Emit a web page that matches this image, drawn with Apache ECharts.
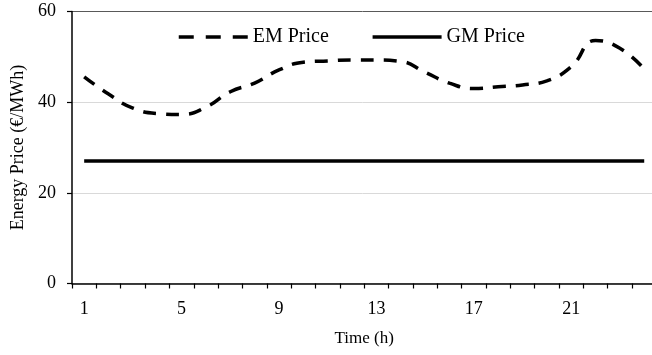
<!DOCTYPE html>
<html>
<head>
<meta charset="utf-8">
<script src="https://cdn.jsdelivr.net/npm/echarts@6/dist/echarts.min.js"></script>
<style>
  html, body { margin: 0; padding: 0; background: #fff; }
  #chart { width: 652px; height: 355px; }
</style>
</head>
<body>
<div id="chart"></div>
<script>
// Hourly energy prices over one day
const hours = ['1','2','3','4','5','6','7','8','9','10','11','12',
               '13','14','15','16','17','18','19','20','21','22','23','24'];
const emPrice = [45.6, 41.8, 38.7, 37.5, 37.3, 38.9, 42.3, 44.2, 47.1, 48.8, 49.1, 49.3,
                 49.3, 49.0, 46.6, 44.2, 43.0, 43.4, 43.8, 44.7, 47.8, 53.6, 51.9, 47.3];
const gmPrice = [27, 27, 27, 27, 27, 27, 27, 27, 27, 27, 27, 27,
                 27, 27, 27, 27, 27, 27, 27, 27, 27, 27, 27, 27];
const yTicks = [0, 20, 40, 60];

const FONT = '"Liberation Serif", "DejaVu Serif", serif';
const chart = echarts.init(document.getElementById('chart'), null, { renderer: 'canvas' });

chart.setOption({
  animation: false,
  backgroundColor: '#ffffff',
  textStyle: { fontFamily: FONT, color: '#000' },
  grid: { left: 72, top: 11.5, right: -4.4, bottom: 71.5, containLabel: false, outerBoundsMode: 'none' },
  legend: {
    left: 177,
    top: 27,
    padding: 0,
    itemWidth: 69,
    itemHeight: 8,
    itemGap: 42,
    itemStyle: { opacity: 0 },
    lineStyle: { width: 3.5 },
    textStyle: { fontFamily: FONT, fontSize: 20, color: '#000' },
    data: [
      { name: 'EM Price', lineStyle: { width: 3.5, type: [15, 12] } },
      { name: 'GM Price', lineStyle: { width: 3.5 } }
    ]
  },
  xAxis: {
    type: 'category',
    data: hours,
    boundaryGap: true,
    name: 'Time (h)',
    nameLocation: 'middle',
    nameGap: 47,
    nameTextStyle: { fontFamily: FONT, fontSize: 17, color: '#000' },
    axisLine: { lineStyle: { color: '#000', width: 1.5 } },
    axisTick: { show: true, interval: 0, length: 5, lineStyle: { color: '#000', width: 1.2 } },
    axisLabel: { interval: 3, margin: 17, fontFamily: FONT, fontSize: 18, color: '#000' },
    splitLine: { show: false }
  },
  yAxis: {
    type: 'value',
    min: yTicks[0],
    max: yTicks[yTicks.length - 1],
    interval: 20,
    name: 'Energy Price (€/MWh)',
    nameLocation: 'middle',
    nameGap: 45,
    nameTextStyle: { fontFamily: FONT, fontSize: 18, color: '#000' },
    axisLine: { show: true, lineStyle: { color: '#000', width: 1.5 } },
    axisTick: { show: true, length: 5, lineStyle: { color: '#000', width: 1.2 } },
    axisLabel: { margin: 16, fontFamily: FONT, fontSize: 18, color: '#000' },
    splitLine: { show: true, lineStyle: { color: ['#d9d9d9', '#d9d9d9', '#d9d9d9', '#595959'], width: 1 } }
  },
  series: [
    {
      name: 'EM Price',
      type: 'line',
      data: emPrice,
      smooth: 0.5,
      symbol: 'none',
      lineStyle: { color: '#000', width: 3.5, type: [13, 10] },
      itemStyle: { color: '#000' },
      z: 3
    },
    {
      name: 'GM Price',
      type: 'line',
      data: gmPrice,
      symbol: 'none',
      lineStyle: { color: '#000', width: 3.5 },
      itemStyle: { color: '#000' },
      z: 2
    }
  ]
});
</script>
</body>
</html>
